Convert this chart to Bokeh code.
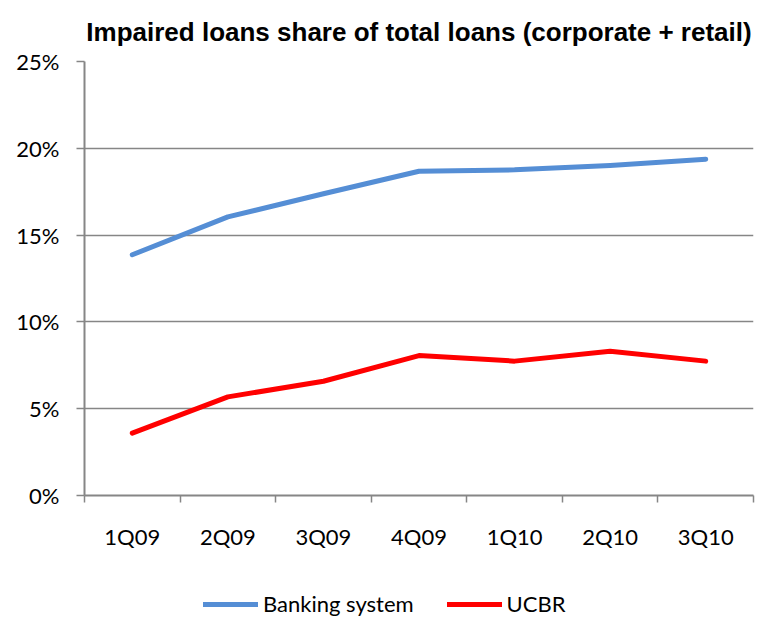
from bokeh.plotting import figure
from bokeh.layouts import column
from bokeh.models import Range1d, FixedTicker, LinearAxis, PrintfTickFormatter, Legend, LegendItem, Grid
from bokeh.embed import file_html
from bokeh.resources import INLINE

quarters = ["1Q09", "2Q09", "3Q09", "4Q09", "1Q10", "2Q10", "3Q10"]
banking_system = [13.87, 16.05, 17.38, 18.68, 18.76, 19.01, 19.37]
ucbr = [3.59, 5.68, 6.58, 8.06, 7.74, 8.31, 7.74]
y_ticks = [0, 5, 10, 15, 20, 25]
series_names = ["Banking system", "UCBR"]
series_colors = ["#558ED5", "#FF0000"]

GRAY = "#868686"
FONT = "Lato"
n = len(quarters)
xc = [i + 0.5 for i in range(n)]
bounds = list(range(n + 1))

p = figure(width=755, height=581, output_backend="svg", toolbar_location=None,
           x_range=Range1d(0, n), y_range=Range1d(0, 25),
           x_axis_type=None, y_axis_type=None,
           min_border_left=84, min_border_right=2, min_border_top=61, min_border_bottom=86,
           title="Impaired loans share of total loans (corporate + retail)")
p.outline_line_color = None
p.title.text_font = "Liberation Sans"
p.title.text_font_style = "bold"
p.title.text_font_size = "26px"
p.title.text_color = "black"
p.title.align = "center"
p.title.offset = -4
p.title.standoff = 29

yaxis = LinearAxis(ticker=FixedTicker(ticks=y_ticks), formatter=PrintfTickFormatter(format="%d%%"))
yaxis.axis_line_color = GRAY
yaxis.axis_line_width = 2
yaxis.major_tick_line_color = GRAY
yaxis.major_tick_line_width = 1.5
yaxis.major_tick_out = 8
yaxis.major_tick_in = 0
yaxis.minor_tick_line_color = None
yaxis.major_label_text_font = FONT
yaxis.major_label_text_font_size = "22px"
yaxis.major_label_text_color = "black"
yaxis.major_label_standoff = 17
p.add_layout(yaxis, "left")

p.add_layout(Grid(dimension=1, ticker=FixedTicker(ticks=y_ticks), grid_line_color=GRAY, grid_line_width=1.5))

xaxis = LinearAxis(ticker=FixedTicker(ticks=bounds))
xaxis.major_label_overrides = {b: "" for b in bounds}
xaxis.major_label_text_font_size = "0px"
xaxis.major_label_standoff = 0
xaxis.axis_line_color = GRAY
xaxis.axis_line_width = 2
xaxis.major_tick_line_color = GRAY
xaxis.major_tick_line_width = 1.5
xaxis.major_tick_out = 7
xaxis.major_tick_in = 0
xaxis.minor_tick_line_color = None
p.add_layout(xaxis, "below")

xlab = LinearAxis(ticker=FixedTicker(ticks=xc))
xlab.major_label_overrides = {c: q for c, q in zip(xc, quarters)}
xlab.axis_line_color = None
xlab.major_tick_line_color = None
xlab.major_tick_out = 0
xlab.major_tick_in = 0
xlab.minor_tick_line_color = None
xlab.major_label_text_font = FONT
xlab.major_label_text_font_size = "22px"
xlab.major_label_text_color = "black"
xlab.major_label_standoff = 20
p.add_layout(xlab, "below")

for vals, col in zip([banking_system, ucbr], series_colors):
    p.line(xc, vals, line_color=col, line_width=5, line_cap="round", line_join="round")

# legend strip below the chart
lf = figure(width=755, height=36, output_backend="svg", toolbar_location=None,
            x_range=Range1d(0, n), y_range=Range1d(-100, -99),
            x_axis_type=None, y_axis_type=None,
            min_border_left=0, min_border_right=0, min_border_top=0, min_border_bottom=0)
lf.outline_line_color = None
items = []
for name, vals, col in zip(series_names, [banking_system, ucbr], series_colors):
    r = lf.line(xc, vals, line_color=col, line_width=5, line_cap="round")
    items.append(LegendItem(label=name, renderers=[r]))
legend = Legend(items=items, orientation="horizontal", location=(119, 0),
                glyph_width=55, glyph_height=20, label_standoff=5, spacing=33,
                padding=0, margin=0, border_line_color=None, background_fill_alpha=0,
                label_text_font=FONT, label_text_font_size="22px", label_text_color="black",
                label_height=20)
lf.add_layout(legend)

open("out.html", "w").write(file_html(column(p, lf, spacing=0), INLINE))
